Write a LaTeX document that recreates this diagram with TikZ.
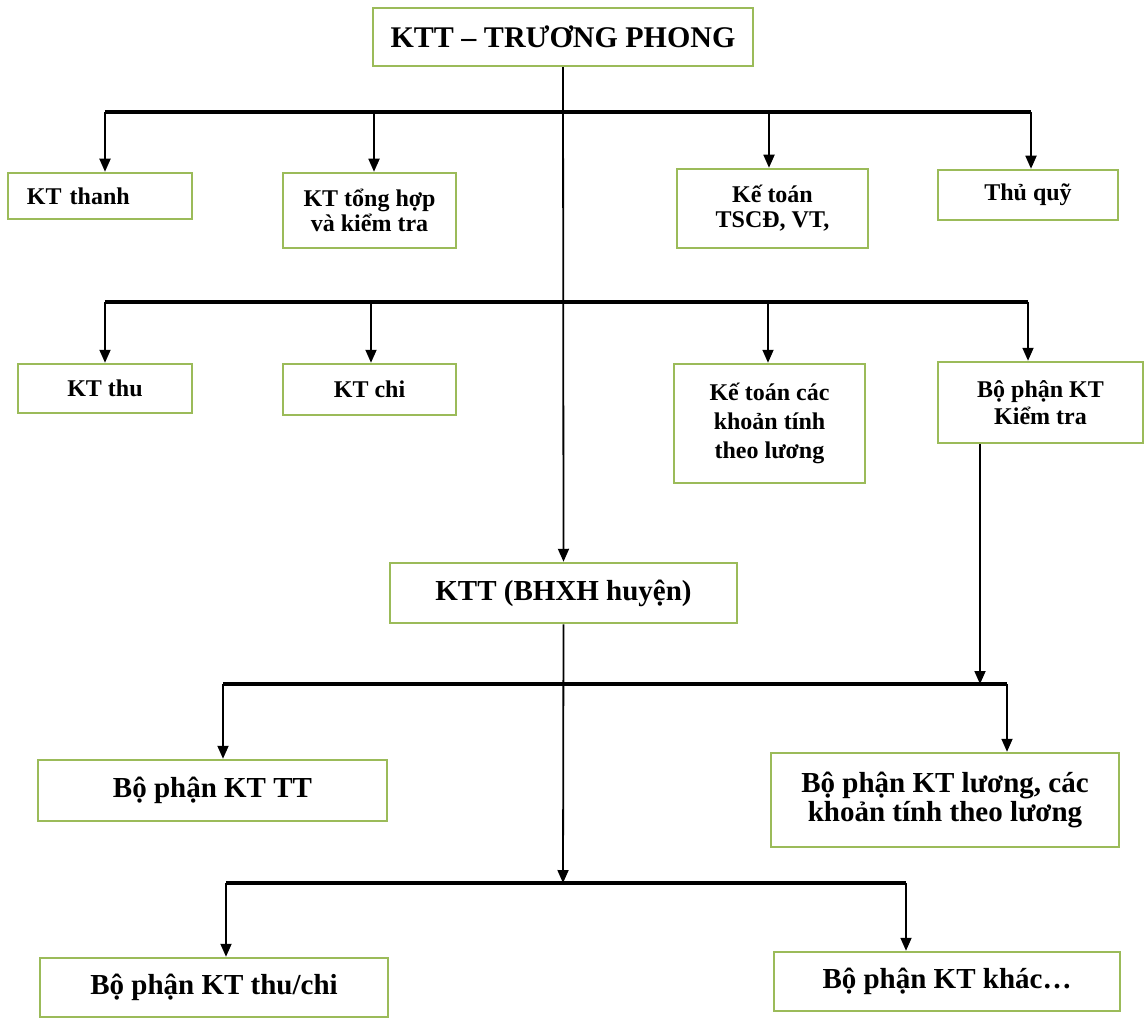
\documentclass[tikz,border=0pt]{standalone}
\usepackage{fontspec}
\setmainfont{Liberation Serif}
\usetikzlibrary{arrows.meta}
\definecolor{boxgreen}{HTML}{9BBB59}
\begin{document}
\begin{tikzpicture}[x=1pt,y=-1pt,
  box/.style={draw=boxgreen, line width=2.5pt, fill=white, inner sep=0pt, align=center, font=\bfseries},
  rowf/.style={font=\bfseries\fontsize{24}{25}\selectfont},
  bigf/.style={font=\bfseries\fontsize{29}{29}\selectfont},
  topf/.style={font=\bfseries\fontsize{30}{30}\selectfont},
  bar/.style={line width=3.2pt, draw=black},
  conn/.style={line width=1.8pt, draw=black, -{Triangle[length=13pt,width=11pt]}},
  plain/.style={line width=1.8pt, draw=black}]
\useasboundingbox (0,0) rectangle (1148,1019);
\fill[white] (0,0) rectangle (1148,1019);

% nodes
\node[box, topf, minimum width=380pt, minimum height=58pt] (top) at (563,37) {KTT – TRƯƠNG PHONG};

\node[box, rowf, minimum width=184pt, minimum height=46pt, text width=146pt, align=left] (thanh) at (100,196) {KT thanh};
\node[box, rowf, minimum width=173pt, minimum height=75pt] (tonghop) at (369.5,210.5) {KT tổng hợp\\và kiểm tra};
\node[box, rowf, minimum width=191pt, minimum height=79pt] (tscd) at (772.5,208.5) {Kế toán\\TSCĐ, VT,};
\node[box, rowf, minimum width=180pt, minimum height=50pt] (thuquy) at (1028,195) {Thủ quỹ};

\node[box, rowf, minimum width=174pt, minimum height=49pt] (thu) at (105,388.5) {KT thu};
\node[box, rowf, minimum width=173pt, minimum height=51pt] (chi) at (369.5,389.5) {KT chi};
\node[box, font=\bfseries\fontsize{24}{29}\selectfont, minimum width=191pt, minimum height=119pt] (cackhoan) at (769.5,423.5) {Kế toán các\\khoản tính\\theo lương};
\node[box, font=\bfseries\fontsize{24}{27}\selectfont, minimum width=205pt, minimum height=81pt] (kiemtra) at (1040.5,402.5) {Bộ phận KT\\Kiểm tra};

\node[box, bigf, minimum width=347pt, minimum height=60pt] (ktt) at (563.5,593) {KTT (BHXH huyện)};

\node[box, bigf, minimum width=349pt, minimum height=61pt] (tt) at (212.5,790.5) {Bộ phận KT TT};
\node[box, bigf, minimum width=348pt, minimum height=94pt] (luong) at (945,800) {Bộ phận KT lương, các\\khoản tính theo lương};

\node[box, bigf, minimum width=348pt, minimum height=59pt] (thuchi) at (214,987.5) {Bộ phận KT thu/chi};
\node[box, bigf, minimum width=346pt, minimum height=59pt] (khac) at (947,981.5) {Bộ phận KT khác…};

% junction coordinates
\coordinate (b1L) at (105,112);
\coordinate (b1a) at (374,112);
\coordinate (b1b) at (769,112);
\coordinate (b1R) at (1031,112);
\coordinate (b2L) at (105,302);
\coordinate (b2a) at (371,302);
\coordinate (b2b) at (768,302);
\coordinate (b2R) at (1028,302);
\coordinate (b3L) at (223,684);
\coordinate (b3k) at (980,684);
\coordinate (b3R) at (1007,684);
\coordinate (b4L) at (226,883);
\coordinate (b4c) at (563,883);
\coordinate (b4R) at (906,883);

% bars
\draw[bar] (b1L) -- (b1R);
\draw[bar] (b2L) -- (b2R);
\draw[bar] (b3L) -- (b3R);
\draw[bar] (b4L) -- (b4R);

% trunk
\draw[conn] (top.south) -- (ktt.north);

% row 1
\draw[conn] (b1L) -- (b1L |- thanh.north);
\draw[conn] (b1a) -- (b1a |- tonghop.north);
\draw[conn] (b1b) -- (b1b |- tscd.north);
\draw[conn] (b1R) -- (b1R |- thuquy.north);

% row 2
\draw[conn] (b2L) -- (b2L |- thu.north);
\draw[conn] (b2a) -- (b2a |- chi.north);
\draw[conn] (b2b) -- (b2b |- cackhoan.north);
\draw[conn] (b2R) -- (b2R |- kiemtra.north);

% from kiem tra to bar 3
\draw[conn] (b3k |- kiemtra.south) -- (b3k);
\draw[conn] (b3L) -- (b3L |- tt.north);
\draw[conn] (b3R) -- (b3R |- luong.north);

% from KTT to bar 4
\draw[conn] (ktt.south) -- (b4c);
\draw[conn] (b4L) -- (b4L |- thuchi.north);
\draw[conn] (b4R) -- (b4R |- khac.north);
\end{tikzpicture}
\end{document}
